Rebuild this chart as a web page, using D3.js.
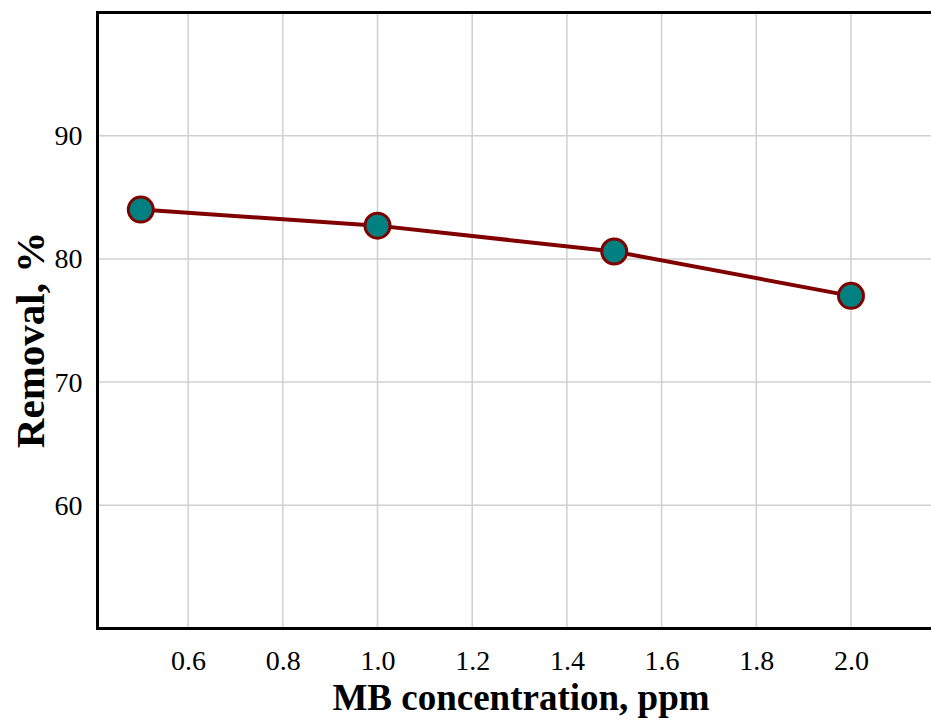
<!DOCTYPE html>
<html>
<head>
<meta charset="utf-8">
<script src="https://cdn.jsdelivr.net/npm/d3@7"></script>
<style>
  html, body { margin: 0; padding: 0; background: #fff; }
  svg { display: block; }
</style>
</head>
<body>
<svg id="chart" width="931" height="721"></svg>
<script>
const concentration = [0.5, 1.0, 1.5, 2.0];
const removal = [84.0, 82.7, 80.6, 77.0];
const xTicks = [0.6, 0.8, 1.0, 1.2, 1.4, 1.6, 1.8, 2.0];
const yTicks = [60, 70, 80, 90];
const yGrid = [60, 70, 80, 90, 100];
const xLabel = "MB concentration, ppm";
const yLabel = "Removal, %";

(function () {
const svg = d3.select("#chart");
const W = 931, H = 721;
const pL = 97.5, pR = 931, pT = 12.5, pB = 628.5;
const serif = "Liberation Serif, Times New Roman, serif";

const x = d3.scaleLinear().domain([0.4086, 2.169]).range([pL, pR]);
const y = d3.scaleLinear().domain([50, 100]).range([pB, pT]);

svg.append("rect").attr("width", W).attr("height", H).attr("fill", "#fff");

// grid
const grid = svg.append("g");
grid.selectAll("line.vx").data(xTicks).join("line")
  .attr("x1", d => x(d)).attr("x2", d => x(d))
  .attr("y1", pT).attr("y2", pB)
  .attr("stroke", "#d0d0d0").attr("stroke-width", 1.5);
grid.selectAll("line.hy").data(yGrid).join("line")
  .attr("y1", d => y(d)).attr("y2", d => y(d))
  .attr("x1", pL).attr("x2", pR)
  .attr("stroke", "#d0d0d0").attr("stroke-width", 1.5);

// axes
const xAxis = d3.axisBottom(x).tickValues(xTicks).tickSize(0).tickPadding(22)
  .tickFormat(d3.format(".1f"));
const gx = svg.append("g").attr("transform", `translate(0,${pB})`).call(xAxis);
gx.select(".domain").remove();
gx.selectAll("text").attr("font-family", serif)
  .attr("font-size", 28).attr("fill", "#000");

const yAxis = d3.axisLeft(y).tickValues(yTicks).tickSize(0).tickPadding(15)
  .tickFormat(d3.format("d"));
const gy = svg.append("g").attr("transform", `translate(${pL},0)`).call(yAxis);
gy.select(".domain").remove();
gy.selectAll("text").attr("font-family", serif)
  .attr("font-size", 28).attr("fill", "#000");

// frame lines
svg.append("line").attr("x1", pL).attr("x2", pL).attr("y1", pT - 1.5).attr("y2", pB + 1.5)
  .attr("stroke", "#000").attr("stroke-width", 3);
svg.append("line").attr("x1", pL - 1.5).attr("x2", W).attr("y1", pT).attr("y2", pT)
  .attr("stroke", "#000").attr("stroke-width", 3);
svg.append("line").attr("x1", pL - 1.5).attr("x2", W).attr("y1", pB).attr("y2", pB)
  .attr("stroke", "#000").attr("stroke-width", 3);

// data
const pts = concentration.map((c, i) => [c, removal[i]]);
svg.append("path").datum(pts)
  .attr("d", d3.line().x(d => x(d[0])).y(d => y(d[1])))
  .attr("fill", "none").attr("stroke", "#800000").attr("stroke-width", 4);
svg.selectAll("circle.pt").data(pts).join("circle")
  .attr("cx", d => x(d[0])).attr("cy", d => y(d[1])).attr("r", 12.5)
  .attr("fill", "#008080").attr("stroke", "#800000").attr("stroke-width", 3);

// titles
svg.append("text").attr("x", 521).attr("y", 710).attr("text-anchor", "middle")
  .attr("font-family", serif)
  .attr("font-weight", "bold").attr("font-size", 37).text(xLabel);
svg.append("text").attr("transform", "translate(44,340) rotate(-90)").attr("text-anchor", "middle")
  .attr("font-family", serif)
  .attr("font-weight", "bold").attr("font-size", 41).text(yLabel);
})();
</script>
</body>
</html>
